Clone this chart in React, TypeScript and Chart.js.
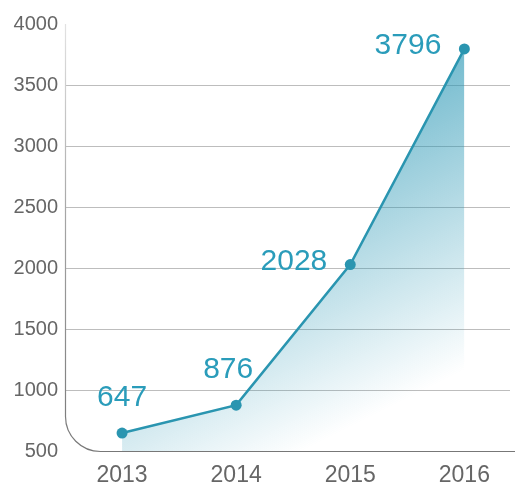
import React, { useEffect, useRef } from 'react';
import { Chart, registerables } from 'chart.js';

Chart.register(...registerables);

const years = [2013, 2014, 2015, 2016];
const values = [647, 876, 2028, 3796];
const yTicks = [500, 1000, 1500, 2000, 2500, 3000, 3500, 4000];

const LINE = '#2a95b0';
const LABEL = '#2a9cba';
const TEXT = '#666666';
const FONT = '"Liberation Sans", Arial, sans-serif';

const axisPlugin = {
  id: 'roundedAxis',
  beforeDatasetsDraw(chart: any) {
    const { ctx, chartArea } = chart;
    const { left, top, bottom, right } = chartArea;
    const r = 35;
    const x = Math.round(left) + 0.5;
    const y = Math.round(bottom) + 0.5;
    ctx.save();
    const g = ctx.createLinearGradient(0, top, 0, bottom);
    g.addColorStop(0, '#e2e2e2');
    g.addColorStop(0.45, '#a5a5a5');
    g.addColorStop(1, '#777777');
    ctx.strokeStyle = g;
    ctx.lineWidth = 1.2;
    ctx.beginPath();
    ctx.moveTo(x, top);
    ctx.lineTo(x, y - r);
    ctx.arcTo(x, y, x + r, y, r);
    ctx.lineTo(right + 5, y);
    ctx.stroke();
    ctx.restore();
  },
};

const labelPlugin = {
  id: 'valueLabels',
  afterDatasetsDraw(chart: any) {
    const { ctx } = chart;
    const meta = chart.getDatasetMeta(0);
    const ds = chart.data.datasets[0];
    ctx.save();
    ctx.font = `30px ${FONT}`;
    ctx.fillStyle = LABEL;
    ctx.textBaseline = 'middle';
    meta.data.forEach((pt: any, i: number) => {
      const prev = meta.data[i - 1];
      const steep = prev ? Math.abs(prev.y - pt.y) > Math.abs(pt.x - prev.x) : false;
      const v = ds.data[i];
      const txt = String(typeof v === 'object' ? v.y : v);
      if (steep) {
        ctx.textAlign = 'right';
        ctx.fillText(txt, pt.x - 23, pt.y - 3);
      } else {
        ctx.textAlign = 'center';
        ctx.fillText(txt, pt.x - (prev ? 8 : 0), pt.y - 35);
      }
    });
    ctx.restore();
  },
};

export default function App() {
  const ref = useRef<HTMLCanvasElement | null>(null);

  useEffect(() => {
    if (!ref.current) return;
    Chart.defaults.font.family = FONT;
    const chart = new Chart(ref.current, {
      type: 'line',
      data: {
        datasets: [
          {
            data: years.map((y, i) => ({ x: y, y: values[i] })),
            borderColor: LINE,
            borderWidth: 2.5,
            pointRadius: 5.5,
            pointBorderWidth: 0,
            pointBackgroundColor: LINE,
            tension: 0,
            fill: 'start',
            backgroundColor: (c: any) => {
              const area = c.chart.chartArea;
              if (!area) return 'rgba(40,150,180,0.3)';
              const w = area.right - area.left;
              const h = area.bottom - area.top;
              const g = c.chart.ctx.createLinearGradient(
                area.left + w * 0.899,
                area.top + h * 0.81,
                area.left + w * 0.611,
                area.top + h * 0.211
              );
              g.addColorStop(0, 'rgba(40,150,180,0)');
              g.addColorStop(1, 'rgba(40,150,180,0.64)');
              return g;
            },
          },
        ],
      },
      options: {
        animation: false,
        responsive: true,
        maintainAspectRatio: false,
        layout: { padding: { top: 24, right: 8, left: 0, bottom: 0 } },
        plugins: { legend: { display: false }, tooltip: { enabled: false } },
        scales: {
          x: {
            type: 'linear',
            min: 2012.5,
            max: 2016.4,
            grid: { display: false },
            border: { display: false },
            afterBuildTicks: (s: any) => {
              s.ticks = years.map((v) => ({ value: v }));
            },
            afterFit: (s: any) => {
              s.height = 31;
            },
            ticks: {
              callback: (v: any) => String(v),
              font: { family: FONT, size: 23 },
              color: TEXT,
              padding: 3,
              maxRotation: 0,
              autoSkip: false,
            },
          },
          y: {
            min: 500,
            max: 4000,
            afterBuildTicks: (s: any) => {
              s.ticks = yTicks.map((v) => ({ value: v }));
            },
            afterFit: (s: any) => {
              s.width = 65;
            },
            grid: {
              color: (c: any) =>
                c.tick && (c.tick.value === 500 || c.tick.value === 4000)
                  ? 'rgba(0,0,0,0)'
                  : '#bdbdbd',
              drawTicks: false,
              lineWidth: 1,
            },
            border: { display: false },
            ticks: {
              callback: (v: any) => String(v),
              font: { family: FONT, size: 20 },
              color: TEXT,
              padding: 7,
            },
          },
        },
      },
      plugins: [axisPlugin, labelPlugin],
    });
    return () => chart.destroy();
  }, []);

  return (
    <div style={{ position: 'fixed', left: 0, top: 0, width: 518, height: 482 }}>
      <canvas ref={ref} />
    </div>
  );
}
